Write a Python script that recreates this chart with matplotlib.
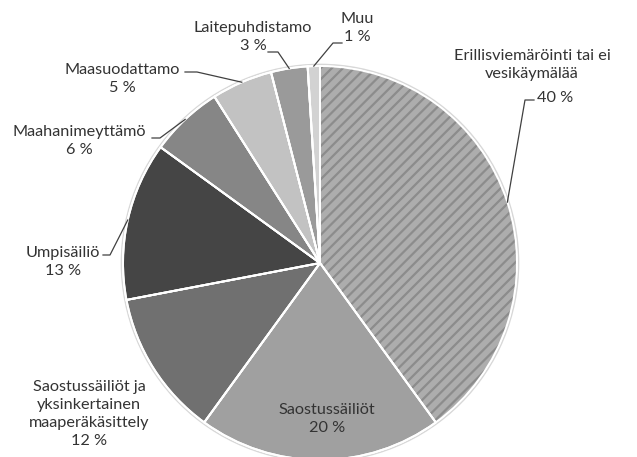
import numpy as np
import matplotlib
matplotlib.use("Agg")
import matplotlib.pyplot as plt
from matplotlib.patches import Circle, Wedge

labels = ['Erillisviemäröinti tai ei\nvesikäymälää', 'Saostussäiliöt',
          'Saostussäiliöt ja\nyksinkertainen\nmaaperäkäsittely', 'Umpisäiliö',
          'Maahanimeyttämö', 'Maasuodattamo', 'Laitepuhdistamo', 'Muu']
values = [40, 20, 12, 13, 6, 5, 3, 1]
pct_labels = ['40 %', '20 %', '12 %', '13 %', '6 %', '5 %', '3 %', '1 %']

colors = ['#adadad', '#a0a0a0', '#707070', '#454545',
          '#868686', '#c2c2c2', '#9a9a9a', '#d2d2d2']

plt.rcParams['font.family'] = ['Lato', 'DejaVu Sans']
plt.rcParams['hatch.linewidth'] = 1.6

W, H = 637, 457
fig = plt.figure(figsize=(W / 100, H / 100), dpi=100)
ax = fig.add_axes([0, 0, 1, 1])

cx, cy, R = 320, H - 263, 197
txtc = '#333333'
fs = 11.7

# faint shadow ring
ax.add_patch(Circle((cx, cy), R + 1.5, facecolor='none', edgecolor='#d8d8d8', lw=1.2, zorder=0))

wedges, _ = ax.pie(values, colors=colors, startangle=90, counterclock=False,
                   center=(cx, cy), radius=R, frame=True,
                   wedgeprops=dict(edgecolor='white', linewidth=1.4))
# hatched slice: hatch takes the edge colour, so redraw white outlines on top
wedges[0].set_edgecolor('#8c8c8c')
wedges[0].set_linewidth(0)
wedges[0].set_hatch('///')
for w in wedges:
    ax.add_patch(Wedge(w.center, w.r, w.theta1, w.theta2, facecolor='none',
                       edgecolor='white', lw=1.4, zorder=4))

ax.set_xlim(0, W)
ax.set_ylim(0, H)
ax.set_aspect('equal')
ax.axis('off')


def py(y):
    return H - y


# label layout: (text center), leader bend and end, in image pixels
layout = {
    0: ((532, 65), [(525, 100), (534, 100)]),
    2: ((89, 414), None),
    3: ((63, 262), [(110, 255), (103, 255)]),
    4: ((79, 141), [(160, 138), (152, 138)]),
    5: ((122, 79), [(197, 72), (185, 72)]),
    6: ((253, 37), [(278, 52), (268, 52)]),
    7: ((357, 28), [(333, 43), (342, 43)]),
}

for i, w in enumerate(wedges):
    mid = np.deg2rad((w.theta1 + w.theta2) / 2)
    ex, ey = cx + R * np.cos(mid), cy + R * np.sin(mid)
    if i == 1:
        ax.text(327, py(419), labels[i] + '\n' + pct_labels[i], ha='center', va='center',
                fontsize=fs, color=txtc, linespacing=1.35)
        continue
    (tx, ty), leader = layout[i]
    if i == 0:
        ax.text(tx, py(ty), labels[i], ha='center', va='center', fontsize=fs,
                color=txtc, linespacing=1.35)
        ax.text(537, py(98), pct_labels[i], ha='left', va='center', fontsize=fs, color=txtc)
    else:
        ax.text(tx, py(ty), labels[i] + '\n' + pct_labels[i], ha='center', va='center',
                fontsize=fs, color=txtc, linespacing=1.35)
    if leader is not None:
        xs = [ex] + [p[0] for p in leader]
        ys = [ey] + [py(p[1]) for p in leader]
        ax.plot(xs, ys, color='#404040', lw=0.9, zorder=5)

plt.savefig('out.png', dpi=100)
